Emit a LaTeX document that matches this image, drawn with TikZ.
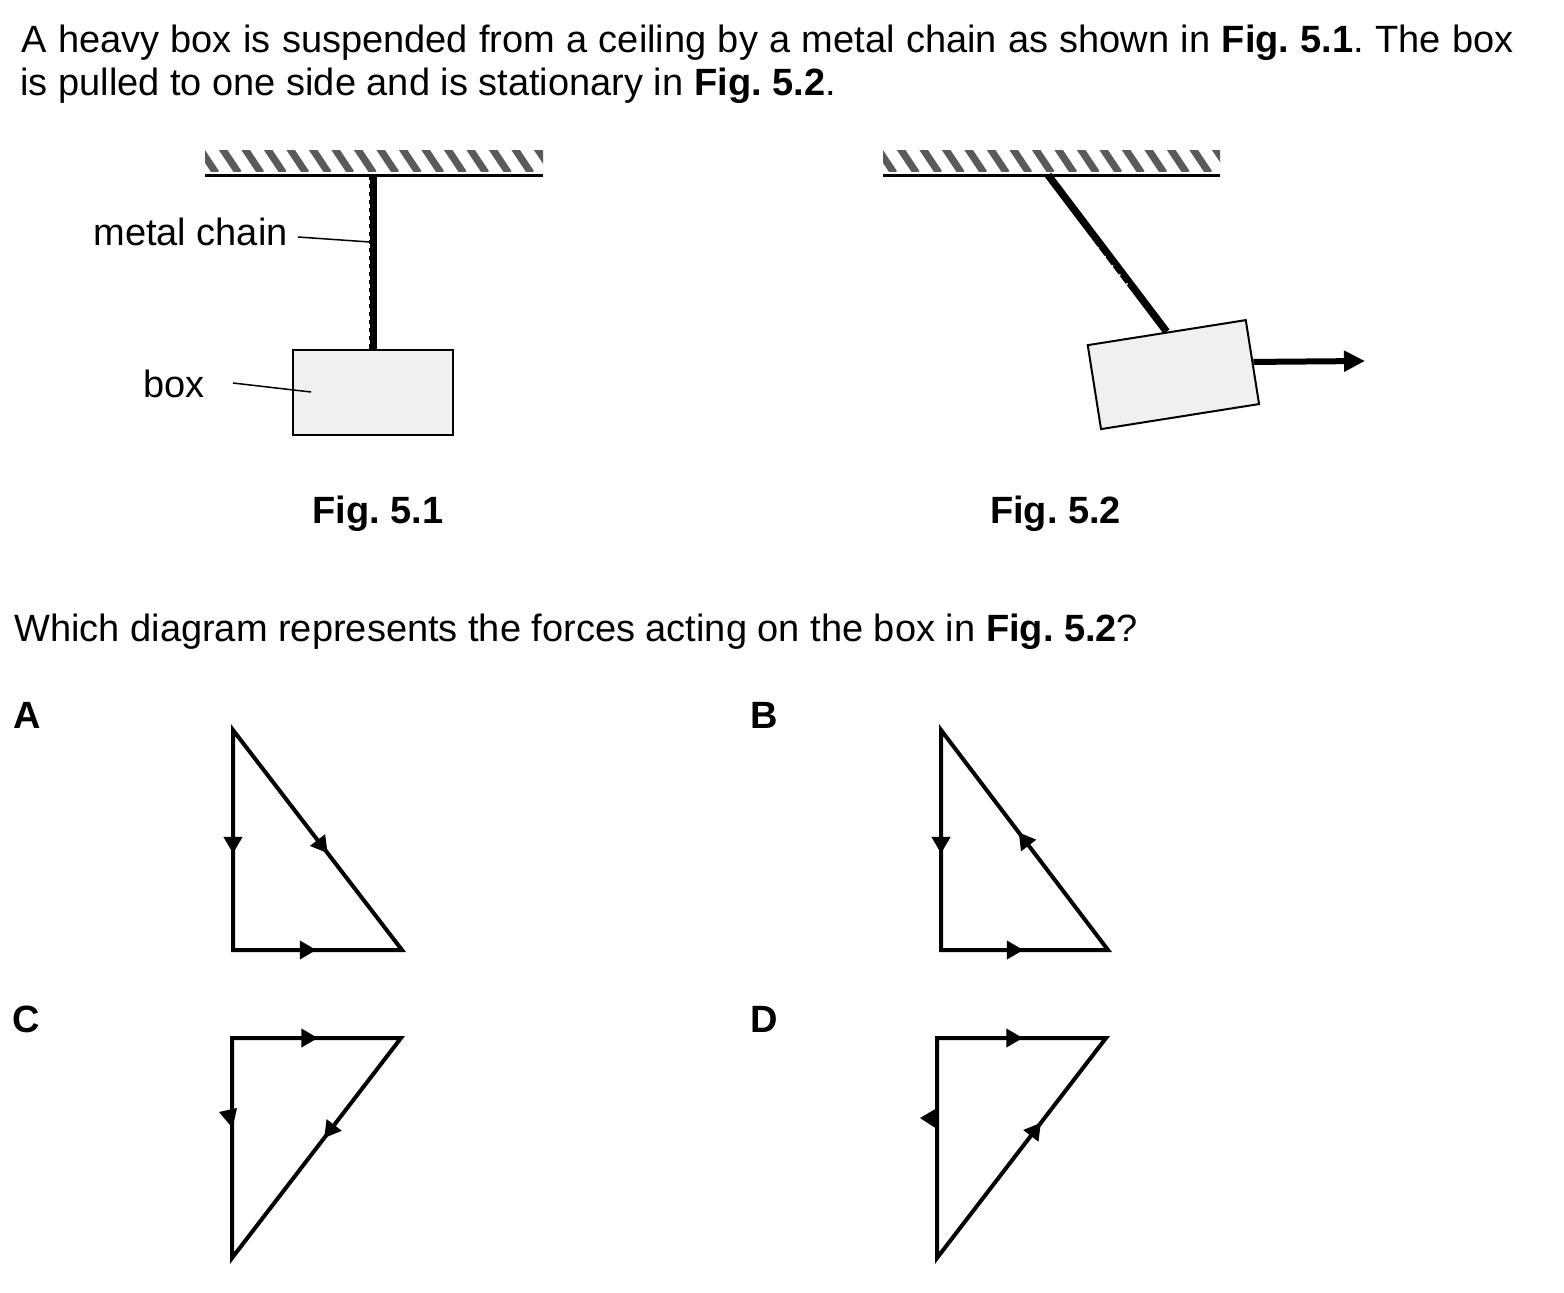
\documentclass[tikz,border=0pt]{standalone}
\usepackage{fontspec}
\setmainfont{Liberation Sans}
\usetikzlibrary{arrows.meta,decorations.markings,calc}
\definecolor{hatchgray}{RGB}{90,90,90}
\definecolor{boxgray}{RGB}{240,240,240}
\newcommand{\bodysize}{\fontsize{19pt}{22pt}\selectfont\frenchspacing}
\tikzset{
  txt/.style={anchor=base west, inner sep=0pt, font=\bodysize},
  figcap/.style={anchor=base, inner sep=0pt, font=\bodysize\bfseries},
  lab/.style={anchor=base west, inner sep=0pt, font=\bodysize\bfseries},
  ceil/.style={line width=1.5pt},
  hatch/.style={hatchgray, line width=3.6pt},
  chainst/.style={line width=3.7pt},
  leader/.style={line width=0.75pt},
  boxst/.style={draw, line width=1pt, fill=boxgray, inner sep=0pt, minimum width=80pt, minimum height=42.5pt},
  tri/.style={line width=2pt, line join=miter},
  fmark/.style={decorate, decoration={markings, mark=at position #1 with {\fill (0.6pt,0) -- (-7.6pt,4.8pt) -- (-7.6pt,-4.8pt) -- cycle;}}}
}
\begin{document}
\begin{tikzpicture}[x=0.5pt,y=-0.5pt]
\fill[white] (0,0) rectangle (1564,1292);
\useasboundingbox (0,0) rectangle (1564,1292);

% text
\node[txt] (t1) at (21,52) {\makebox[746pt][s]{A heavy box is suspended from a ceiling by a metal chain as shown in \textbf{Fig. 5.1}. The box}};
\node[txt] (t2) at (20,95.5) {is pulled to one side and is stationary in \textbf{Fig. 5.2}.};

% ---- Fig 5.1 ----
\begin{scope}
\clip (205,150) rectangle (543,171);
\foreach \x in {198,220.5,...,560} \draw[hatch] (\x,146) -- ++(18,27);
\end{scope}
\coordinate (cl1) at (205,175);
\coordinate (cr1) at (543,175);
\draw[ceil] (cl1) -- (cr1);
\coordinate (ch1a) at (373,175);
\node[boxst] (box1) at (373,392.5) {};
\draw[chainst] (ch1a) -- (box1.north);
\draw[white, line width=0.5pt, dash pattern=on 2pt off 2pt] (369.5,180) -- (369.5,346);

\node[txt] (mc) at (93,245) {metal chain};
\coordinate (mcl) at (298,237);
\coordinate (mcr) at (370,242);
\draw[leader] (mcl) -- (mcr);
\node[txt] (bx) at (143,397) {box};
\coordinate (bxl) at (233,383);
\coordinate (bxr) at (311,392);
\draw[leader] (bxl) -- (bxr);

\node[figcap] (f1) at (378,523) {Fig. 5.1};

% ---- Fig 5.2 ----
\begin{scope}
\clip (883,150) rectangle (1220,171);
\foreach \x in {876,898.5,...,1240} \draw[hatch] (\x,146) -- ++(18,27);
\end{scope}
\coordinate (cl2) at (883,175);
\coordinate (cr2) at (1220,175);
\draw[ceil] (cl2) -- (cr2);
\coordinate (ch2a) at (1048,175);
\node[boxst, rotate=9] (box2) at (1173.4,374.6) {};
\draw[chainst] (ch2a) -- (box2.north);
\draw[white, line width=0.8pt, dash pattern=on 0.8pt off 5pt] ($(ch2a)+(-1.6,9)$) -- ($(ch2a)!0.72!(box2.north)+(-2.2,1.5)$);
\coordinate (pull) at (1365,361);
\draw[line width=3pt, -{Triangle[length=10.5pt,width=10pt]}] (box2.east) -- (pull);

\node[figcap] (f2) at (1055.5,523) {Fig. 5.2};

% question
\node[txt] (q) at (14,641) {Which diagram represents the forces acting on the box in \textbf{Fig. 5.2}?};

\node[lab] (la) at (13,728) {A};
\node[lab] (lb) at (750,728) {B};
\node[lab] (lc) at (12,1032) {C};
\node[lab] (ld) at (750,1032) {D};

% ---- A ----
\coordinate (a1) at (233,730);
\coordinate (a2) at (233,950);
\coordinate (a3) at (402,950);
\draw[tri] (a1) -- (a2) -- (a3) -- cycle;
\path[fmark=0.555] (a1) -- (a2);
\path[fmark=0.555] (a1) -- (a3);
\path[fmark=0.485] (a2) -- (a3);

% ---- B ----
\coordinate (b1) at (941,730);
\coordinate (b2) at (941,950);
\coordinate (b3) at (1108,950);
\draw[tri] (b1) -- (b2) -- (b3) -- cycle;
\path[fmark=0.555] (b1) -- (b2);
\path[fmark=0.53] (b3) -- (b1);
\path[fmark=0.485] (b2) -- (b3);

% ---- C ----
\coordinate (c1) at (232,1038);
\coordinate (c2) at (401,1038);
\coordinate (c3) at (232,1258);
\draw[tri] (c1) -- (c2) -- (c3) -- cycle;
\path[fmark=0.5] (c1) -- (c2);
\path[fmark=0.45] (c2) -- (c3);
\fill (219,1112) -- (237,1108) -- (232.5,1128) -- cycle;

% ---- D ----
\coordinate (d1) at (937,1038);
\coordinate (d2) at (1106,1038);
\coordinate (d3) at (937,1258);
\draw[tri] (d1) -- (d2) -- (d3) -- cycle;
\path[fmark=0.5] (d1) -- (d2);
\path[fmark=0.61] (d3) -- (d2);
\fill (920,1118) -- (937,1108) -- (937,1129) -- cycle;
\end{tikzpicture}
\end{document}
